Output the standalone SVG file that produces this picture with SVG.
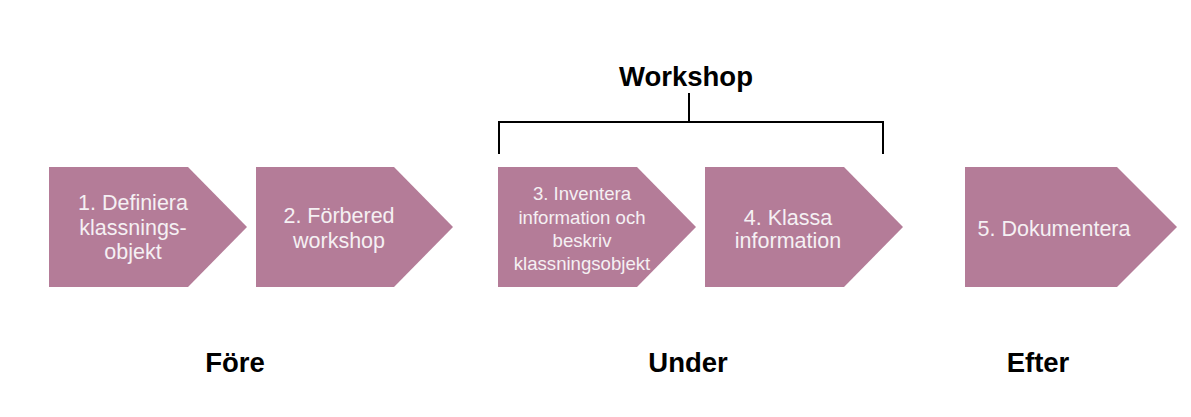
<svg xmlns="http://www.w3.org/2000/svg" width="1191" height="417" viewBox="0 0 1191 417">
<style>
.step{fill:#B47C98}
.t{font-family:"Liberation Sans",Arial,sans-serif;font-size:21.5px;fill:#F5F0F3;text-anchor:middle}
.ts{font-size:18.6px}
.h{font-family:"Liberation Sans",Arial,sans-serif;font-size:27.5px;font-weight:bold;fill:#000;text-anchor:middle}
.br{fill:none;stroke:#000;stroke-width:2}
</style>
<rect width="1191" height="417" fill="#fff"/>
<g id="n1"><polygon class="step" points="49,167 188,167 247,227 188,287 49,287"/>
<text class="t" x="133" y="210">1. Definiera</text><text class="t" x="133" y="235">klassnings-</text><text class="t" x="133" y="259">objekt</text></g>
<g id="n2"><polygon class="step" points="256,167 394,167 453,227 394,287 256,287"/>
<text class="t" x="339" y="223">2. Förbered</text><text class="t" x="339" y="248">workshop</text></g>
<g id="n3"><polygon class="step" points="498,167 637,167 696,227 637,287 498,287"/>
<text class="t ts" x="582" y="200">3. Inventera</text><text class="t ts" x="582" y="224">information och</text><text class="t ts" x="582" y="247">beskriv</text><text class="t ts" x="582" y="270">klassningsobjekt</text></g>
<g id="n4"><polygon class="step" points="705,167 844,167 903,227 844,287 705,287"/>
<text class="t" x="788" y="225">4. Klassa</text><text class="t" x="788" y="248">information</text></g>
<g id="n5"><polygon class="step" points="965,167 1117,167 1177,227 1117,287 965,287"/>
<text class="t" x="1054" y="236">5. Dokumentera</text></g>
<g id="connectors"><path class="br" d="M499,154 V122 H883 V154 M689,122 V93"/></g>
<g id="labels">
<text class="h" x="686" y="86">Workshop</text>
<text class="h" x="235" y="372">Före</text>
<text class="h" x="688" y="372">Under</text>
<text class="h" x="1038" y="372">Efter</text>
</g>
</svg>
